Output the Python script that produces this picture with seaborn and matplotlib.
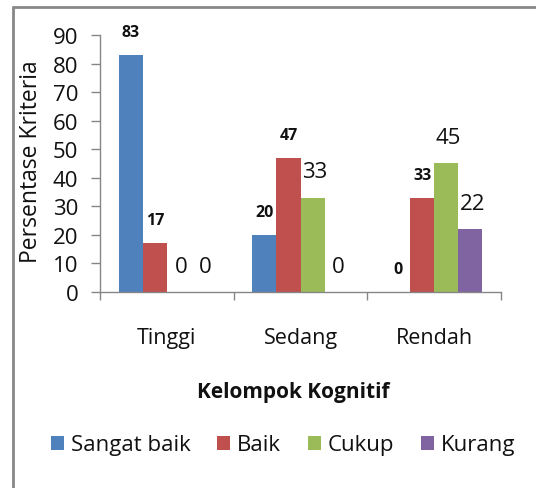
import pandas as pd
import numpy as np
import matplotlib.pyplot as plt
from matplotlib.lines import Line2D
import seaborn as sns

# data
kelompok = ["Tinggi", "Sedang", "Rendah"]
kriteria = ["Sangat baik", "Baik", "Cukup", "Kurang"]
sangat_baik = [83, 20, 0]
baik = [17, 47, 33]
cukup = [0, 33, 45]
kurang = [0, 0, 22]

# which data labels were drawn in the big font in the original
big_labels = {("Tinggi", "Cukup"), ("Tinggi", "Kurang"), ("Sedang", "Cukup"),
              ("Sedang", "Kurang"), ("Rendah", "Cukup"), ("Rendah", "Kurang")}

COLORS = ["#4F81BD", "#C0504D", "#9BBB59", "#8064A2"]

sns.set_style("white")
plt.rcParams['font.family'] = ['Open Sans', 'DejaVu Sans']

rows = []
for name, vals in zip(kriteria, [sangat_baik, baik, cukup, kurang]):
    for k, v in zip(kelompok, vals):
        rows.append({"Kelompok": k, "Kriteria": name, "Nilai": v})
df = pd.DataFrame(rows)

fig = plt.figure(figsize=(5.36, 4.89), dpi=100)
ax = fig.add_axes([0.1866, 0.4008, 0.7481, 0.5256])

sns.barplot(data=df, x="Kelompok", y="Nilai", hue="Kriteria", order=kelompok,
            hue_order=kriteria, palette=COLORS, width=0.72, saturation=1,
            edgecolor="none", errorbar=None, ax=ax)

ax.set_xlim(-0.5, 2.5)
ax.set_ylim(0, 90)
ax.set_yticks(np.arange(0, 91, 10))

# data labels
for cont, name in zip(ax.containers, kriteria):
    for bar, k in zip(cont, kelompok):
        h = bar.get_height()
        xc = bar.get_x() + bar.get_width() / 2
        if (k, name) in big_labels:
            ax.annotate(f"{h:.0f}", (xc, h), xytext=(2, 26), textcoords="offset pixels",
                        ha="center", va="center", fontsize=16, color="#111111")
        else:
            ax.annotate(f"{h:.0f}", (xc, h), xytext=(0, 23), textcoords="offset pixels",
                        ha="center", va="center", fontsize=11.5, fontweight="bold",
                        color="#111111")

# axes styling, excel look
for side in ["top", "right"]:
    ax.spines[side].set_visible(False)
for side in ["left", "bottom"]:
    ax.spines[side].set_color("#868686")
    ax.spines[side].set_linewidth(1)

ax.tick_params(axis="y", direction="out", length=6.5, width=1, color="#868686",
               labelsize=16, pad=9, left=True, labelcolor="#111111")
ax.set_xticks(range(3))
ax.set_xticklabels(kelompok)
ax.set_xticks([-0.5, 0.5, 1.5, 2.5], minor=True)
ax.tick_params(axis="x", which="major", length=0, labelsize=15.5, pad=25,
               labelcolor="#111111")
ax.tick_params(axis="x", which="minor", direction="out", length=6, width=1,
               color="#868686", bottom=True)

ax.set_ylabel("Persentase Kriteria", fontsize=16.5, color="#111111")
ax.yaxis.set_label_coords(-0.142, 0.51)
ax.set_xlabel("Kelompok Kognitif", fontsize=15, fontweight="bold", color="#111111")
ax.xaxis.set_label_coords(0.481, -0.345)

handles, labels = ax.get_legend_handles_labels()
ax.legend_.remove()
fig.legend(handles, labels, loc="center", bbox_to_anchor=(0.528, 0.088), ncol=4,
           frameon=False, fontsize=16, handlelength=0.6, handleheight=0.6,
           handletextpad=0.3, columnspacing=1.2, labelcolor="#111111")

# grey chart frame (only top and left visible in the crop)
fig.add_artist(Line2D([0.0243, 1.0], [0.9836, 0.9836], color="#888888", lw=2))
fig.add_artist(Line2D([0.0243, 0.0243], [0.0, 0.9836], color="#888888", lw=2))

fig.savefig("out.png", dpi=100)
